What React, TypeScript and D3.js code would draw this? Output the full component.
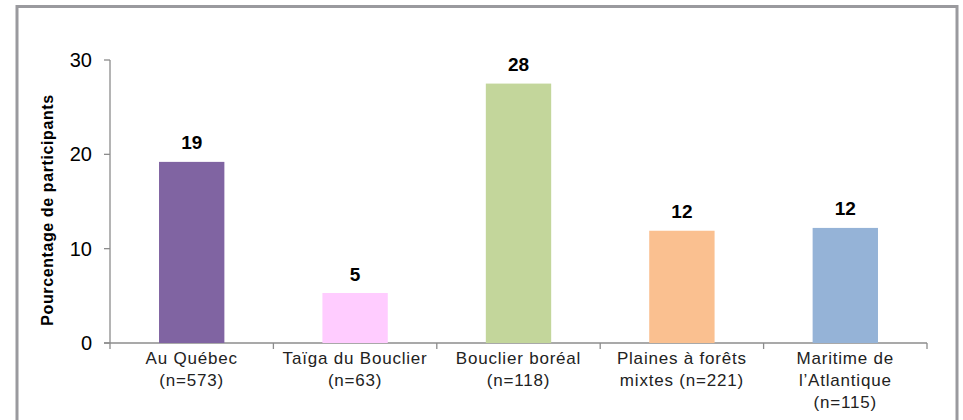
import * as d3 from "d3";
import { useEffect, useRef } from "react";

const categories = [
  ["Au Québec", "(n=573)"],
  ["Taïga du Bouclier", "(n=63)"],
  ["Bouclier boréal", "(n=118)"],
  ["Plaines à forêts", "mixtes (n=221)"],
  ["Maritime de", "l’Atlantique", "(n=115)"],
];
const values = [19.2, 5.3, 27.5, 11.9, 12.2];
const valueLabels = ["19", "5", "28", "12", "12"];
const colors = ["#8064A2", "#FFCCFF", "#C3D69B", "#FAC090", "#95B3D7"];
const yTicks = [0, 10, 20, 30];

const W = 963;
const H = 420;

const Chart = () => {
  const ref = useRef<SVGSVGElement>(null);

  useEffect(() => {
    if (!ref.current) return;
    const svg = d3.select(ref.current);
    svg.selectAll("*").remove();

    const font = "Liberation Sans, Arial, sans-serif";

    // outer frame
    svg
      .append("rect")
      .attr("x", 17)
      .attr("y", 6.5)
      .attr("width", 940)
      .attr("height", 430)
      .attr("fill", "#fff")
      .attr("stroke", "#9a9a9e")
      .attr("stroke-width", 3);

    const x = d3
      .scaleBand<number>()
      .domain(d3.range(values.length))
      .range([110, 927])
      .padding(0);

    const y = d3.scaleLinear().domain([0, 30]).range([343, 60]);

    const axisColor = "#8c8c8c";

    // y axis
    svg
      .append("line")
      .attr("x1", 110)
      .attr("x2", 110)
      .attr("y1", y(30))
      .attr("y2", y(0))
      .attr("stroke", axisColor)
      .attr("stroke-width", 1.3);

    svg
      .selectAll(".ytick")
      .data(yTicks)
      .enter()
      .append("line")
      .attr("x1", 104)
      .attr("x2", 110)
      .attr("y1", (d) => y(d))
      .attr("y2", (d) => y(d))
      .attr("stroke", axisColor)
      .attr("stroke-width", 1.3);

    svg
      .selectAll(".ylabel")
      .data(yTicks)
      .enter()
      .append("text")
      .attr("x", 92)
      .attr("y", (d) => y(d))
      .attr("dy", "0.35em")
      .attr("text-anchor", "end")
      .attr("font-family", font)
      .attr("font-size", 20)
      .attr("fill", "#000")
      .text((d) => d);

    // x axis
    svg
      .append("line")
      .attr("x1", 104)
      .attr("x2", 927)
      .attr("y1", y(0))
      .attr("y2", y(0))
      .attr("stroke", axisColor)
      .attr("stroke-width", 1.3);

    const edges = d3.range(values.length + 1).map((i) =>
      i < values.length ? (x(i) as number) : 927
    );
    svg
      .selectAll(".xtick")
      .data(edges)
      .enter()
      .append("line")
      .attr("x1", (d) => d)
      .attr("x2", (d) => d)
      .attr("y1", y(0))
      .attr("y2", y(0) + 6)
      .attr("stroke", axisColor)
      .attr("stroke-width", 1.3);

    const bw = x.bandwidth() * 0.4;

    svg
      .selectAll(".bar")
      .data(values)
      .enter()
      .append("rect")
      .attr("x", (_, i) => (x(i) as number) + x.bandwidth() / 2 - bw / 2)
      .attr("y", (d) => y(d))
      .attr("width", bw)
      .attr("height", (d) => y(0) - y(d))
      .attr("fill", (_, i) => colors[i]);

    svg
      .selectAll(".vlabel")
      .data(values)
      .enter()
      .append("text")
      .attr("x", (_, i) => (x(i) as number) + x.bandwidth() / 2)
      .attr("y", (d) => y(d) - 12.5)
      .attr("text-anchor", "middle")
      .attr("font-family", font)
      .attr("font-size", 19)
      .attr("font-weight", "bold")
      .attr("fill", "#000")
      .text((_, i) => valueLabels[i]);

    // category labels
    categories.forEach((lines, i) => {
      const cx = (x(i) as number) + x.bandwidth() / 2;
      const t = svg
        .append("text")
        .attr("x", cx)
        .attr("y", 364)
        .attr("text-anchor", "middle")
        .attr("font-family", font)
        .attr("font-size", 17)
        .attr("letter-spacing", 0.8)
        .attr("fill", "#222");
      lines.forEach((l, j) => {
        t.append("tspan")
          .attr("x", cx)
          .attr("dy", j === 0 ? 0 : 22)
          .text(l);
      });
    });

    // y title
    svg
      .append("text")
      .attr("transform", `translate(53,210) rotate(-90)`)
      .attr("text-anchor", "middle")
      .attr("font-family", font)
      .attr("font-size", 16)
      .attr("letter-spacing", 0.6)
      .attr("font-weight", "bold")
      .attr("fill", "#000")
      .text("Pourcentage de participants");
  }, []);

  return <svg ref={ref} width={W} height={H} style={{ display: "block" }} />;
};

export default function App() {
  return (
    <div style={{ position: "fixed", left: 0, top: 0 }}>
      <Chart />
    </div>
  );
}
